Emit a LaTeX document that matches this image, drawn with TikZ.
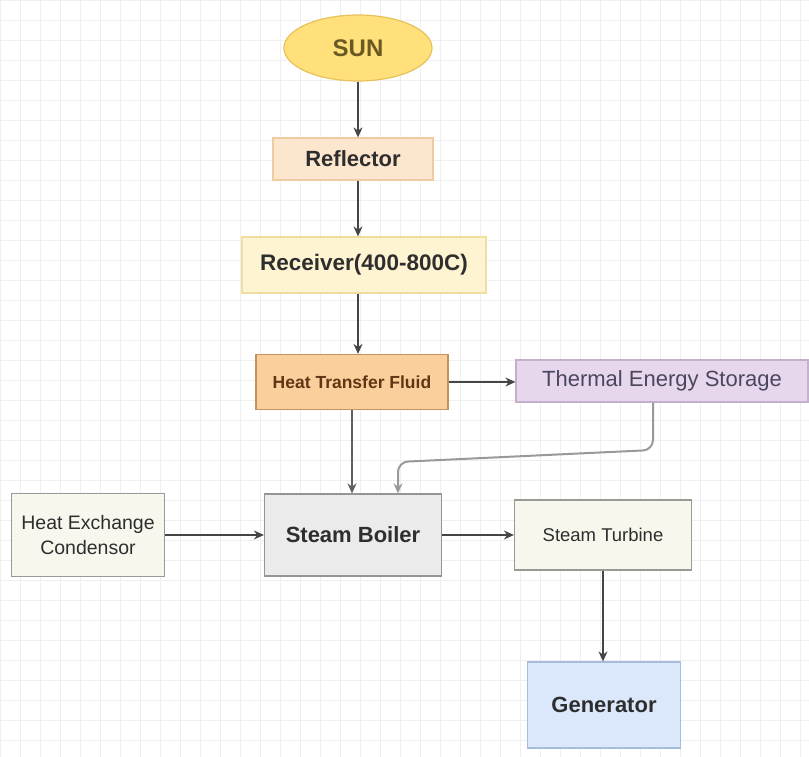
\documentclass[tikz,border=0pt]{standalone}
\usepackage{fontspec}
\setmainfont{Liberation Sans}
\usetikzlibrary{shapes.geometric,arrows.meta}
\definecolor{sunfill}{HTML}{FFE07A}
\definecolor{sunline}{HTML}{E8C15A}
\definecolor{reffill}{HTML}{FCE6CE}
\definecolor{refline}{HTML}{EFCBA0}
\definecolor{recfill}{HTML}{FFF4D2}
\definecolor{recline}{HTML}{F0DDA0}
\definecolor{htffill}{HTML}{FBCF9C}
\definecolor{htfline}{HTML}{C4935E}
\definecolor{tesfill}{HTML}{E6D7EC}
\definecolor{tesline}{HTML}{C2B0CC}
\definecolor{crmfill}{HTML}{F8F7EE}
\definecolor{crmline}{HTML}{9A9A94}
\definecolor{boifill}{HTML}{EBEBEB}
\definecolor{boiline}{HTML}{959595}
\definecolor{genfill}{HTML}{DBE8FB}
\definecolor{genline}{HTML}{A6BCDA}
\definecolor{gridc}{HTML}{EFEFEF}
\definecolor{linec}{HTML}{454545}
\definecolor{txt}{HTML}{2E2E2E}
\tikzset{
  box/.style={draw, line width=1.2pt, inner sep=0pt, align=center, text=txt},
  conn/.style={draw=linec, line width=1.4pt, -{Stealth[length=10pt,width=9pt]}},
  softconn/.style={draw=gray!80, line width=2pt, -{Stealth[length=10pt,width=9pt]}, rounded corners=10pt},
}
\begin{document}
\begin{tikzpicture}[x=1pt,y=-1pt]
\fill[white] (0,0) rectangle (809,757);
\useasboundingbox (0,0) rectangle (809,757);
\foreach \i in {0,20,...,800} \draw[gridc,line width=0.5pt] (\i,0) -- (\i,757);
\foreach \j in {0,20,...,740} \draw[gridc,line width=0.5pt] (0,\j) -- (809,\j);

\node[box, ellipse, fill=sunfill, draw=sunline, minimum width=148pt, minimum height=66pt, text={rgb,255:red,105;green,90;blue,35}, font=\fontsize{24}{28}\selectfont\bfseries] (sun) at (358,48) {SUN};
\node[box, fill=reffill, draw=refline, minimum width=160pt, minimum height=42pt, font=\fontsize{22}{26}\selectfont\bfseries] (ref) at (353,159) {Reflector};
\node[box, fill=recfill, draw=recline, minimum width=244pt, minimum height=56pt, font=\fontsize{22.5}{26}\selectfont\bfseries] (rec) at (364,265) {Receiver(400-800C)};
\node[box, fill=htffill, draw=htfline, minimum width=192pt, minimum height=55pt, text={rgb,255:red,95;green,55;blue,20}, font=\fontsize{17.5}{20}\selectfont\bfseries] (htf) at (352,382) {Heat Transfer Fluid};
\node[box, fill=tesfill, draw=tesline, minimum width=292pt, minimum height=42pt, text={rgb,255:red,75;green,70;blue,95}, font=\fontsize{22}{26}\selectfont] (tes) at (662,381) {Thermal Energy Storage};
\node[box, fill=crmfill, draw=crmline, minimum width=153pt, minimum height=83pt, font=\fontsize{19.5}{25}\selectfont] (hec) at (88,535) {Heat Exchange\\Condensor};
\node[box, fill=boifill, draw=boiline, minimum width=177pt, minimum height=82pt, font=\fontsize{22}{26}\selectfont\bfseries] (boi) at (353,535) {Steam Boiler};
\node[box, fill=crmfill, draw=crmline, minimum width=177pt, minimum height=70pt, font=\fontsize{18.5}{22}\selectfont] (tur) at (603,535) {Steam Turbine};
\node[box, fill=genfill, draw=genline, minimum width=153pt, minimum height=86pt, font=\fontsize{22}{26}\selectfont\bfseries] (gen) at (604,705) {Generator};

\draw[conn] (sun.south) -- (sun.south |- ref.north);
\draw[conn] (ref.south -| sun.south) -- (rec.north -| sun.south);
\draw[conn] (rec.south -| sun.south) -- (htf.north -| sun.south);
\draw[conn] (htf.east) -- (htf.east -| tes.west);
\draw[conn, draw=gray!75!black, line width=1.8pt] (htf.south) -- (htf.south |- boi.north);
\coordinate (t1) at (653,450);
\coordinate (t2) at (398,462);
\draw[softconn] (tes.south -| t1) -- (t1) -- (t2) -- (t2 |- boi.north);
\draw[conn] (hec.east) -- (boi.west);
\draw[conn] (boi.east) -- (tur.west);
\draw[conn] (tur.south) -- (tur.south |- gen.north);
\end{tikzpicture}
\end{document}
